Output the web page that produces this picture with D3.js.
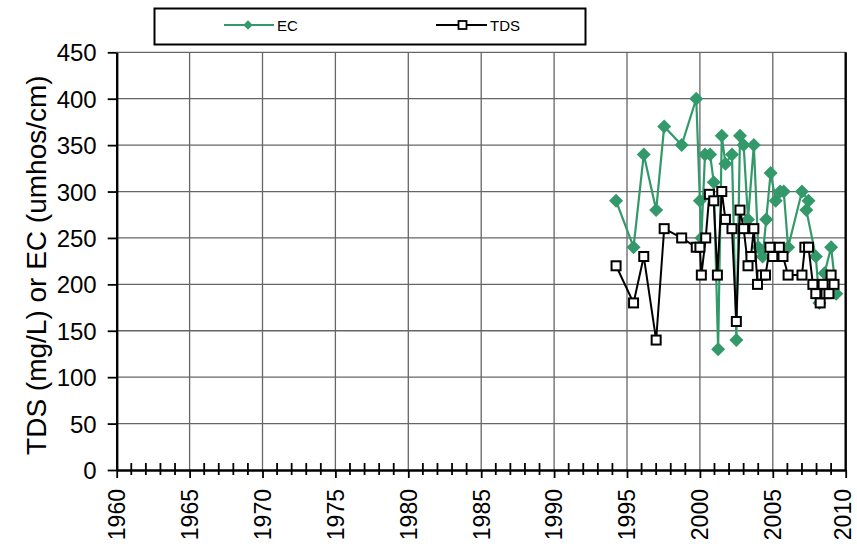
<!DOCTYPE html>
<html>
<head>
<meta charset="utf-8">
<script src="https://cdn.jsdelivr.net/npm/d3@7"></script>
<style>
  body { margin: 0; background: #fff; }
  text { font-family: "Liberation Sans", Arial, sans-serif; fill: #000; }
</style>
</head>
<body>
<div id="chart"></div>
<script>
// EC readings (umhos/cm)
let ecYears = [1994.25, 1995.45, 1996.15, 1997.0, 1997.55, 1998.75, 1999.75, 2000.0, 2000.1, 2000.35,
    2000.7, 2000.95, 2001.25, 2001.5, 2001.75, 2002.2, 2002.5, 2002.75, 2003.0, 2003.3,
    2003.7, 2004.0, 2004.3, 2004.55, 2004.85, 2005.2, 2005.5, 2005.75, 2006.05, 2007.0,
    2007.45, 2007.3, 2007.95, 2008.2, 2008.55, 2009.0, 2009.35];
let ecValues = [290, 240, 340, 280, 370, 350, 400, 290, 250, 340,
    340, 310, 130, 360, 330, 340, 140, 360, 350, 270,
    350, 240, 230, 270, 320, 290, 300, 300, 240, 300,
    290, 280, 230, 180, 212, 240, 190];

// TDS readings (mg/L)
let tdsYears = [1994.25, 1995.45, 1996.15, 1997.0, 1997.55, 1998.75, 1999.75, 2000.0, 2000.1, 2000.4,
    2000.65, 2000.95, 2001.2, 2001.5, 2001.75, 2002.2, 2002.5, 2002.75, 2003.0, 2003.3,
    2003.5, 2003.7, 2003.95, 2004.25, 2004.5, 2004.8, 2005.0, 2005.45, 2005.7, 2006.05,
    2007.0, 2007.2, 2007.45, 2007.75, 2007.95, 2008.25, 2008.45, 2008.65, 2008.85, 2009.0, 2009.2];
let tdsValues = [220, 180, 230, 140, 260, 250, 240, 240, 210, 250,
    297, 290, 210, 300, 270, 260, 160, 280, 260, 220,
    230, 260, 200, 210, 210, 240, 230, 240, 230, 210,
    210, 240, 240, 200, 190, 180, 200, 190, 190, 210, 200];

let yTicks = [0, 50, 100, 150, 200, 250, 300, 350, 400, 450];
let xLabels = [1960, 1965, 1970, 1975, 1980, 1985, 1990, 1995, 2000, 2005, 2010];
let legendNames = ['EC', 'TDS'];

let chart_width = 857;
let chart_height = 549;
let green = '#33996a';

let ecData = ecYears.map((d, i) => ({ x: d, y: ecValues[i] }));
let tdsData = tdsYears.map((d, i) => ({ x: d, y: tdsValues[i] }));

let svg = d3.select('#chart')
    .append('svg')
    .attr('width', chart_width)
    .attr('height', chart_height);

let xScale = d3.scaleLinear().domain([1960, 2010]).range([116.7, 845.7]);
let yScale = d3.scaleLinear().domain([0, 450]).range([470, 52.3]);

// grid
svg.append('g')
    .selectAll('line')
    .data(yTicks.slice(1))
    .enter()
    .append('line')
    .attr('x1', xScale(1960)).attr('x2', xScale(2010))
    .attr('y1', d => yScale(d)).attr('y2', d => yScale(d))
    .attr('stroke', '#666').attr('stroke-width', 1.3);

svg.append('g')
    .selectAll('line')
    .data(xLabels.slice(1, -1))
    .enter()
    .append('line')
    .attr('x1', d => xScale(d)).attr('x2', d => xScale(d))
    .attr('y1', yScale(0)).attr('y2', yScale(450))
    .attr('stroke', '#666').attr('stroke-width', 1.3);

// right border
svg.append('line')
    .attr('x1', xScale(2010)).attr('x2', xScale(2010))
    .attr('y1', yScale(0)).attr('y2', yScale(450))
    .attr('stroke', '#000').attr('stroke-width', 2.4);

// y axis
let yAxis = svg.append('g')
    .attr('transform', 'translate(' + xScale(1960) + ',0)')
    .call(d3.axisLeft(yScale).tickValues(yTicks).tickSize(9).tickPadding(11).tickSizeOuter(0));
yAxis.select('.domain').attr('stroke-width', 2.4);
yAxis.selectAll('.tick line').attr('stroke-width', 1.8);
yAxis.selectAll('.tick text')
    .style('font-size', '24px')
    .attr('dy', '0.36em')
    .attr('font-family', null);

// x axis: yearly minor ticks crossing the axis
let minorYears = d3.range(1960, 2011).filter(d => d % 5 !== 0);
svg.append('g')
    .selectAll('line')
    .data(minorYears)
    .enter()
    .append('line')
    .attr('x1', d => xScale(d)).attr('x2', d => xScale(d))
    .attr('y1', yScale(0) - 7).attr('y2', yScale(0) + 5)
    .attr('stroke', '#000').attr('stroke-width', 1.8);

let xAxis = svg.append('g')
    .attr('transform', 'translate(0,' + yScale(0) + ')')
    .call(d3.axisBottom(xScale).tickValues(xLabels).tickFormat(d3.format('d')).tickSize(8).tickSizeOuter(0));
xAxis.select('.domain').attr('stroke-width', 2.4);
xAxis.selectAll('.tick line').attr('stroke-width', 1.8);
xAxis.selectAll('.tick text')
    .style('font-size', '23px')
    .attr('font-family', null)
    .attr('transform', 'rotate(-90)')
    .attr('text-anchor', 'end')
    .attr('x', -19)
    .attr('y', 0)
    .attr('dy', d => d === 2010 ? '0.2em' : '0.34em');

// y axis title
svg.append('text')
    .attr('transform', 'translate(46,' + ((yScale(0) + yScale(450)) / 2 + 4) + ') rotate(-90)')
    .attr('text-anchor', 'middle')
    .style('font-size', '28px')
    .text('TDS (mg/L) or EC (umhos/cm)');

// lines
let line = d3.line().x(d => xScale(d.x)).y(d => yScale(d.y));

svg.append('path')
    .datum(ecData)
    .attr('d', line)
    .attr('fill', 'none')
    .attr('stroke', green)
    .attr('stroke-width', 2.2);

svg.selectAll('.ec')
    .data(ecData)
    .enter()
    .append('path')
    .attr('class', 'ec')
    .attr('d', d3.symbol(d3.symbolDiamond2, 125)())
    .attr('transform', d => 'translate(' + xScale(d.x) + ',' + yScale(d.y) + ')')
    .attr('fill', green);

svg.append('path')
    .datum(tdsData)
    .attr('d', line)
    .attr('fill', 'none')
    .attr('stroke', '#000')
    .attr('stroke-width', 2);

svg.selectAll('.tds')
    .data(tdsData)
    .enter()
    .append('rect')
    .attr('class', 'tds')
    .attr('x', d => xScale(d.x) - 4.5)
    .attr('y', d => yScale(d.y) - 4.5)
    .attr('width', 9)
    .attr('height', 9)
    .attr('fill', '#fff')
    .attr('stroke', '#000')
    .attr('stroke-width', 2);

// legend
let legend = svg.append('g');
legend.append('rect')
    .attr('x', 154.5).attr('y', 8.5)
    .attr('width', 431).attr('height', 36)
    .attr('fill', '#fff').attr('stroke', '#000').attr('stroke-width', 2);

legend.append('line')
    .attr('x1', 224).attr('x2', 274).attr('y1', 25).attr('y2', 25)
    .attr('stroke', green).attr('stroke-width', 2);
legend.append('path')
    .attr('d', d3.symbol(d3.symbolDiamond2, 55)())
    .attr('transform', 'translate(248,25)')
    .attr('fill', green);
legend.append('text')
    .attr('x', 277).attr('y', 30.5)
    .style('font-size', '15px')
    .text(legendNames[0]);

legend.append('line')
    .attr('x1', 436).attr('x2', 487).attr('y1', 25).attr('y2', 25)
    .attr('stroke', '#000').attr('stroke-width', 2);
legend.append('rect')
    .attr('x', 458.5).attr('y', 21).attr('width', 8).attr('height', 8)
    .attr('fill', '#fff').attr('stroke', '#000').attr('stroke-width', 1.8);
legend.append('text')
    .attr('x', 490).attr('y', 30.5)
    .style('font-size', '15px')
    .text(legendNames[1]);
</script>
</body>
</html>
